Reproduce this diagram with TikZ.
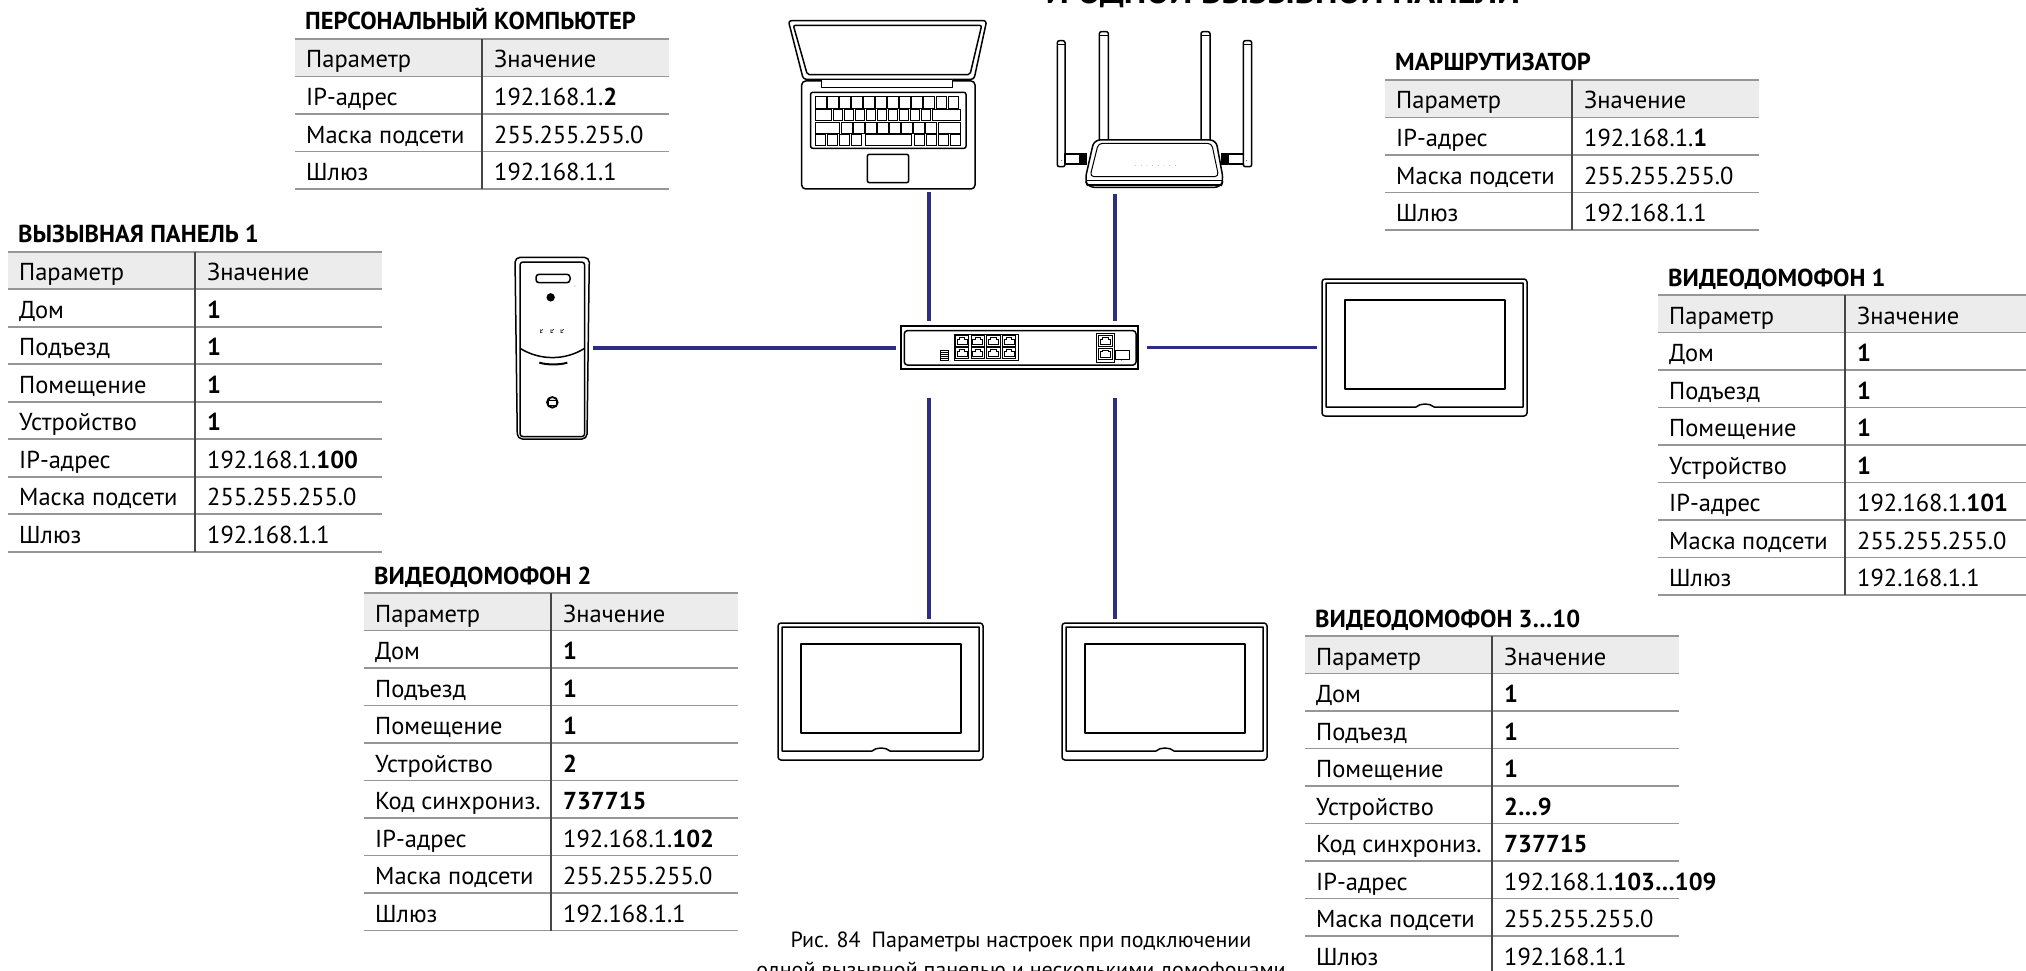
\documentclass[tikz,border=0pt]{standalone}
\usepackage{fontspec}
\setmainfont{PT Sans}
\usetikzlibrary{calc}

\definecolor{linkblue}{RGB}{43,46,131}
\definecolor{rowline}{RGB}{150,150,150}
\definecolor{headfill}{RGB}{236,236,236}
\definecolor{colline}{RGB}{70,70,70}

\tikzset{
  link/.style={draw=linkblue, line width=3.3pt},
  dev/.style={draw=black, line width=1.5pt, line join=round},
  devthin/.style={draw=black, line width=1pt, line join=round},
  keycap/.style={draw=black, line width=1pt},
  cell/.style={anchor=base west, inner sep=0pt, font=\fontsize{24.5}{24.5}\selectfont},
  ttl/.style={anchor=base west, inner sep=0pt, font=\fontsize{24.5}{24.5}\selectfont\bfseries},
  hit/.style={draw=none, inner sep=0pt, rectangle},
}

% parameter table: #1 name, #2 left, #3 top, #4 title, #5 number of rows, #6 rows
\newcommand\partable[6]{%
  \begin{scope}[shift={(#2,#3)}]
    \fill[headfill] (0,0) rectangle (374,37.5);
    \node[ttl] (#1-title) at (10,-9) {#4};
    \node[cell] (#1-h1) at (11,29) {Параметр};
    \node[cell] (#1-h2) at (199,29) {Значение};
    \draw[rowline, line width=1.8pt] (0,0) -- (374,0) (0,37.5) -- (374,37.5);
    \foreach \k/\v [count=\i] in {#6} {
      \node[cell] (#1-k\i) at (11,37.5*\i+29) {\k};
      \node[cell] (#1-v\i) at (199,37.5*\i+29) {\v};
      \draw[rowline, line width=1.8pt] (0,37.5*\i+37.5) -- (374,37.5*\i+37.5);
    }
    \draw[colline, line width=1.3pt] (187,0) -- (187,37.5*#5+37.5);
  \end{scope}}

% indoor monitor: #1 name, #2 left, #3 top
\newcommand\monitorunit[3]{%
  \begin{scope}[shift={(#2,#3)}]
    \draw[dev, rounded corners=3pt] (0,0) rectangle (205,137);
    \draw[dev] (4,4) -- (201,4) -- (201,128) -- (112,128)
      .. controls (108,124) and (98,124) .. (94,128) -- (4,128) -- cycle;
    \draw[dev] (23,21) rectangle (183,110);
  \end{scope}
  \node[hit, minimum width=205pt, minimum height=137pt] (#1) at (#2+102.5,#3+68.5) {};}

% RJ45 socket, #1 x, #2 y (upper left)
\newcommand\rjport[2]{%
  \draw[line width=0.8pt] (#1,#2) rectangle ++(40,32);
  \draw[line width=0.8pt] (#1+5,#2+10) -- (#1+12,#2+10) -- (#1+12,#2+5) -- (#1+28,#2+5)
    -- (#1+28,#2+10) -- (#1+35,#2+10) -- (#1+35,#2+27) -- (#1+5,#2+27) -- cycle;}

\begin{document}
\begin{tikzpicture}[x=1pt, y=-1pt]
\useasboundingbox (0,0) rectangle (2026,971);
\clip (0,0) rectangle (2026,971);
\fill[white] (0,0) rectangle (2026,971);

% heading, cut by the upper edge
\node[anchor=base, inner sep=0pt, font=\fontsize{34.5}{34.5}\selectfont\bfseries] (heading) at (1283,4) {И ОДНОЙ ВЫЗЫВНОЙ ПАНЕЛИ};

% ---------- laptop ----------
\begin{scope}[shift={(770,0)}, scale=1/3]
  \draw[dev, rounded corners=3pt] (55,62) -- (650,62) -- (612,238) -- (100,238) -- cycle;
  \draw[dev, rounded corners=2pt] (70,76) -- (635,76) -- (600,224) -- (112,224) -- cycle;
  \draw[dev, rounded corners=4pt] (95,243) rectangle (615,567);
  \draw[dev, fill=white] (155,238) rectangle (548,262);
  \draw[dev, rounded corners=2pt] (122,277) rectangle (588,445);
  % keyboard
  \foreach \a in {0,...,11} \draw[keycap] (137+36.1*\a,290) rectangle ++(31,35);
  \draw[keycap] (137,330) rectangle (183,362);
  \foreach \a in {0,...,8} \draw[keycap] (190+33*\a,330) rectangle ++(28,32);
  \draw[keycap] (488,330) rectangle (570,362);
  \draw[keycap] (137,368) rectangle (208,400);
  \foreach \a in {0,...,7} \draw[keycap] (215+36*\a,368) rectangle ++(31,32);
  \draw[keycap] (506,368) rectangle (570,400);
  \foreach \a in {0,...,3} \draw[keycap] (137+36*\a,405) rectangle ++(29,33);
  \draw[keycap] (285,405) rectangle (423,438);
  \foreach \a in {0,...,3} \draw[keycap] (433+36*\a,405) rectangle ++(29,33);
  % touchpad
  \draw[dev, rounded corners=2pt] (292,463) rectangle (416,548);
\end{scope}
\node[hit, minimum width=199pt, minimum height=168pt] (laptop) at (887.5,105) {};

% ---------- router ----------
\begin{scope}[shift={(770,0)}, scale=1/3]
  % outer antennas
  \draw[dev, rounded corners=2pt] (862,500) -- (862,122) -- (885,122) -- (885,500) -- cycle;
  \draw[devthin] (862,135) -- (885,135);
  \fill (875,482) circle (1.3pt);
  \draw[dev] (885,462) rectangle (930,492);
  \fill (930,458) rectangle (952,494);
  \draw[dev, rounded corners=2pt] (1420,500) -- (1420,122) -- (1445,122) -- (1445,500) -- cycle;
  \draw[devthin] (1420,135) -- (1445,135);
  \fill (1430,482) circle (1.3pt);
  \draw[dev] (1375,462) rectangle (1420,492);
  \fill (1353,458) rectangle (1375,494);
  % inner antennas
  \draw[dev, rounded corners=2pt] (988,425) -- (988,95) -- (1015,95) -- (1015,425);
  \draw[devthin] (988,108) -- (1015,108);
  \draw[dev, rounded corners=2pt] (1293,425) -- (1293,95) -- (1320,95) -- (1320,425);
  \draw[devthin] (1293,108) -- (1320,108);
  % body
  \draw[dev, fill=white, rounded corners=6pt] (972,420) -- (1338,420) -- (1360,540)
    -- (1352,562) -- (955,562) -- (945,540) -- cycle;
  \draw[devthin, rounded corners=4pt] (985,430) -- (1325,430) -- (1346,530) -- (960,530) -- cycle;
  \draw[dev] (948,542) -- (1357,542);
  \draw[line width=2.2pt] (955,556) -- (1352,556);
  \foreach \a in {0,...,7} \fill (1097+17*\a,497) circle (0.6pt);
\end{scope}
\node[hit, minimum width=195pt, minimum height=155pt] (router) at (1154.5,109.5) {};

% ---------- call panel ----------
\begin{scope}[shift={(480,240)}, scale=1/3]
  \draw[dev, rounded corners=5pt] (105,52) -- (328,52) -- (321,597) -- (112,597) -- cycle;
  \draw[dev, rounded corners=3pt] (120,66) rectangle (314,590);
  \draw[dev] (120,325) .. controls (180,362) and (255,362) .. (314,325);
  \draw[line width=2pt] (178,368) .. controls (200,375) and (240,375) .. (262,368);
  \draw[dev, rounded corners=3pt] (168,103) rectangle (270,128);
  \fill (285,138) circle (1.4pt);
  \draw[line width=1.6pt] (212,172) circle (10pt);
  \draw[line width=1.6pt] (212,172) circle (6.3pt);
  \draw[line width=1.2pt] (212,172) circle (3.2pt);
  \foreach \p in {185,217,247}
    \draw[line width=0.6pt] (\p-4,268) -- (\p-4,278) -- (\p+2,278) (\p-1,272) -- (\p+4,268);
  \draw[line width=1.8pt] (217,487) circle (16pt);
  \draw[line width=1pt, rounded corners=0.6pt] (205,481) rectangle (230,497);
  \draw[line width=1pt] (203,478) -- (209,478) -- (209,481);
\end{scope}
\node[hit, minimum width=74pt, minimum height=182pt] (panel) at (552,348) {};

% ---------- switch ----------
\begin{scope}[shift={(880,300)}, scale=1/3]
  \draw[line width=1.8pt] (62,78) rectangle (775,207);
  \draw[dev, rounded corners=3pt] (73,92) rectangle (768,195);
  \draw[devthin] (222,103) rectangle (415,182);
  \foreach \c in {0,...,3} \foreach \r in {0,1} \rjport{226+47*\c}{107+36*\r}
  \draw[devthin] (650,100) rectangle (703,187);
  \rjport{656}{107} \rjport{656}{145}
  \draw[devthin] (705,152) rectangle (748,178);
  \fill (724,182) circle (1pt);
  \draw[line width=0.8pt] (180,150) rectangle (205,180);
  \foreach \s in {156,162,168,174} \draw[line width=0.7pt] (182,\s) -- (203,\s);
  \fill (210,184) circle (0.9pt);
\end{scope}
\node[hit, minimum width=237.3pt, minimum height=43pt] (switch) at (1019.35,347.5) {};

% ---------- monitors ----------
\monitorunit{mon1}{1322}{279}
\monitorunit{mon2}{778}{623}
\monitorunit{mon3}{1062}{623}

% ---------- cabling ----------
\coordinate (busL) at (929,0);
\coordinate (busR) at (1115,0);
\draw[link, shorten <=3pt, shorten >=5pt] (laptop.south -| busL) -- (switch.north -| busL);
\draw[link, shorten <=7pt, shorten >=5pt] (router.south -| busR) -- (switch.north -| busR);
\draw[link, shorten <=29pt, shorten >=4pt] (switch.south -| busL) -- (mon2.north -| busL);
\draw[link, shorten <=29pt, shorten >=4pt] (switch.south -| busR) -- (mon3.north -| busR);
\draw[link, shorten <=4pt, shorten >=5pt] (panel.east) -- (panel.east -| switch.west);
\draw[link, shorten <=9pt, shorten >=5pt] (switch.east) -- (switch.east -| mon1.west);

% ---------- tables ----------
\partable{pc}{295}{39}{ПЕРСОНАЛЬНЫЙ КОМПЬЮТЕР}{3}{%
  IP-адрес/192.168.1.\textbf{2},
  Маска подсети/255.255.255.0,
  Шлюз/192.168.1.1}

\partable{rt}{1385}{80}{МАРШРУТИЗАТОР}{3}{%
  IP-адрес/192.168.1.\textbf{1},
  Маска подсети/255.255.255.0,
  Шлюз/192.168.1.1}

\partable{cp}{8}{251.7}{ВЫЗЫВНАЯ ПАНЕЛЬ 1}{7}{%
  Дом/\textbf{1},
  Подъезд/\textbf{1},
  Помещение/\textbf{1},
  Устройство/\textbf{1},
  IP-адрес/192.168.1.\textbf{100},
  Маска подсети/255.255.255.0,
  Шлюз/192.168.1.1}

\partable{vd1}{1658}{295}{ВИДЕОДОМОФОН 1}{7}{%
  Дом/\textbf{1},
  Подъезд/\textbf{1},
  Помещение/\textbf{1},
  Устройство/\textbf{1},
  IP-адрес/192.168.1.\textbf{101},
  Маска подсети/255.255.255.0,
  Шлюз/192.168.1.1}

\partable{vd2}{364}{593}{ВИДЕОДОМОФОН 2}{8}{%
  Дом/\textbf{1},
  Подъезд/\textbf{1},
  Помещение/\textbf{1},
  Устройство/\textbf{2},
  Код синхрониз./\textbf{737715},
  IP-адрес/192.168.1.\textbf{102},
  Маска подсети/255.255.255.0,
  Шлюз/192.168.1.1}

\partable{vd3}{1305}{636}{ВИДЕОДОМОФОН 3…10}{8}{%
  Дом/\textbf{1},
  Подъезд/\textbf{1},
  Помещение/\textbf{1},
  Устройство/\textbf{2…9},
  Код синхрониз./\textbf{737715},
  IP-адрес/192.168.1.\textbf{103…109},
  Маска подсети/255.255.255.0,
  Шлюз/192.168.1.1}

% ---------- caption ----------
\node[anchor=base, inner sep=0pt, font=\fontsize{22}{22}\selectfont] (cap1) at (1021,947)
  {Рис. 84\enspace Параметры настроек при подключении};
\node[anchor=base, inner sep=0pt, font=\fontsize{22}{22}\selectfont] (cap2) at (1021,977)
  {одной вызывной панелью и несколькими домофонами};
\end{tikzpicture}
\end{document}
